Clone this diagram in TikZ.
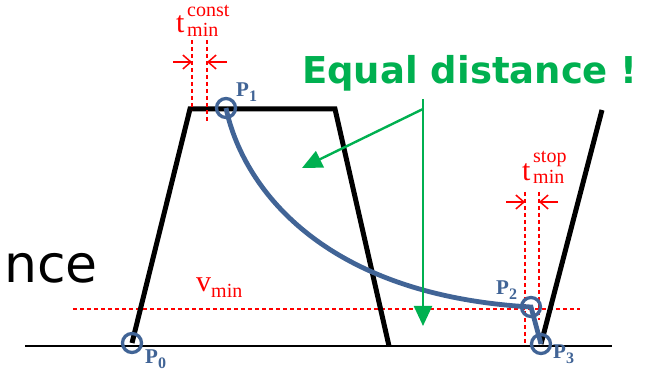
\documentclass[tikz,border=0pt]{standalone}
\usepackage{fontspec}
\newfontfamily\dejavu{DejaVu Sans}
\newfontfamily\lser{Liberation Serif}
\usetikzlibrary{arrows.meta}
\definecolor{pblue}{RGB}{65,100,150}
\definecolor{egreen}{RGB}{0,176,80}
\definecolor{dred}{RGB}{255,0,0}
\tikzset{
  profile/.style={line width=5pt, black, line join=miter},
  ground/.style={line width=2.2pt, black},
  pcirc/.style={circle, draw=pblue, line width=3.3pt, minimum size=19pt, inner sep=0pt},
  traj/.style={pblue, line width=4.8pt},
  redline/.style={dred, dash pattern=on 4pt off 3pt, line width=1.5pt},
  dimarrow/.style={dred, line width=1.5pt, -{Straight Barb[length=8pt,width=14pt]}},
  garrow/.style={egreen, line width=2.4pt, -{Triangle[length=20pt,width=18pt]}},
  mainlbl/.style={anchor=base west, inner sep=0pt, text=dred, font=\lser\fontsize{30}{30}\selectfont},
  scriptlbl/.style={anchor=base west, inner sep=0pt, text=dred, font=\lser\fontsize{20}{20}\selectfont},
  plbl/.style={anchor=base west, inner sep=0pt, text=pblue, font=\lser\bfseries\fontsize{21}{21}\selectfont},
  psub/.style={anchor=base west, inner sep=0pt, text=pblue, font=\lser\bfseries\fontsize{16}{16}\selectfont},
}
\begin{document}
\begin{tikzpicture}[x=1pt,y=-1pt]
\useasboundingbox (0,0) rectangle (654,371);

% key points
\coordinate (p0) at (132,343);
\coordinate (tl) at (190,109);
\coordinate (tr) at (335,109);
\coordinate (rb) at (389,346);
\coordinate (p1) at (226,108);
\coordinate (p2) at (531,307);
\coordinate (p3) at (541,344);
\coordinate (lt) at (602,110);
\coordinate (g0) at (25,346);
\coordinate (g1) at (612,346);

% text at left
\node[anchor=base west, inner sep=0pt, font=\dejavu\fontsize{52}{52}\selectfont] (nce) at (4,283) {nce};

% ground
\draw[ground] (g0) -- (g1);

% v_min dashed line
\coordinate (v0) at (73,309);
\coordinate (v1) at (580,309);
\draw[redline] (v0) -- (v1);
\node[mainlbl] (vm) at (196,292) {v};
\node[scriptlbl] (vmin) at (211,298) {min};

% profile
\draw[profile] (p0) -- (tl) -- (tr) -- (rb);
\draw[profile] (p3) -- (lt);

% t_min^const
\coordinate (c1a) at (192,40);
\coordinate (c1b) at (192,110);
\coordinate (c2a) at (207,40);
\coordinate (c2b) at (207,122);
\draw[redline] (c1a) -- (c1b);
\draw[redline] (c2a) -- (c2b);
\coordinate (ca0) at (173,62);
\coordinate (ca1) at (192,62);
\coordinate (cb0) at (227,62);
\coordinate (cb1) at (207,62);
\draw[dimarrow] (ca0) -- (ca1);
\draw[dimarrow] (cb0) -- (cb1);
\node[mainlbl] (tc) at (176,33) {t};
\node[scriptlbl] (tcs) at (187,17) {const};
\node[scriptlbl] (tcm) at (187,37) {min};

% t_min^stop
\coordinate (s1a) at (525,192);
\coordinate (s1b) at (525,345);
\coordinate (s2a) at (539,192);
\coordinate (s2b) at (539,320);
\draw[redline] (s1a) -- (s1b);
\draw[redline] (s2a) -- (s2b);
\coordinate (sa0) at (506,202);
\coordinate (sa1) at (525,202);
\coordinate (sb0) at (558,202);
\coordinate (sb1) at (539,202);
\draw[dimarrow] (sa0) -- (sa1);
\draw[dimarrow] (sb0) -- (sb1);
\node[mainlbl] (ts) at (522,181) {t};
\node[scriptlbl] (tss) at (533,163) {stop};
\node[scriptlbl] (tsm) at (533,184) {min};

% trajectory
\draw[traj] (p1) .. controls (242,185) and (320,295) .. (p2) -- (p3);

% points
\node[pcirc] (c0) at (p0) {};
\node[pcirc] (c1) at (p1) {};
\node[pcirc] (c2) at (p2) {};
\node[pcirc] (c3) at (p3) {};
\node[plbl] (l0) at (145,364) {P};
\node[psub] (l0s) at (158,369) {0};
\node[plbl] (l1) at (236,97) {P};
\node[psub] (l1s) at (249,102) {1};
\node[plbl] (l2) at (496,295) {P};
\node[psub] (l2s) at (509,300) {2};
\node[plbl] (l3) at (553,359) {P};
\node[psub] (l3s) at (566,364) {3};

% equal distance
\node[anchor=base west, inner sep=0pt, text=egreen, font=\dejavu\bfseries\fontsize{37}{37}\selectfont] (eq) at (302,84) {Equal distance !};
\coordinate (ga) at (423,99);
\coordinate (gb) at (423,326);
\coordinate (gc) at (423,109);
\coordinate (gd) at (302,168);
\draw[garrow] (ga) -- (gb);
\draw[garrow] (gc) -- (gd);
\end{tikzpicture}
\end{document}
